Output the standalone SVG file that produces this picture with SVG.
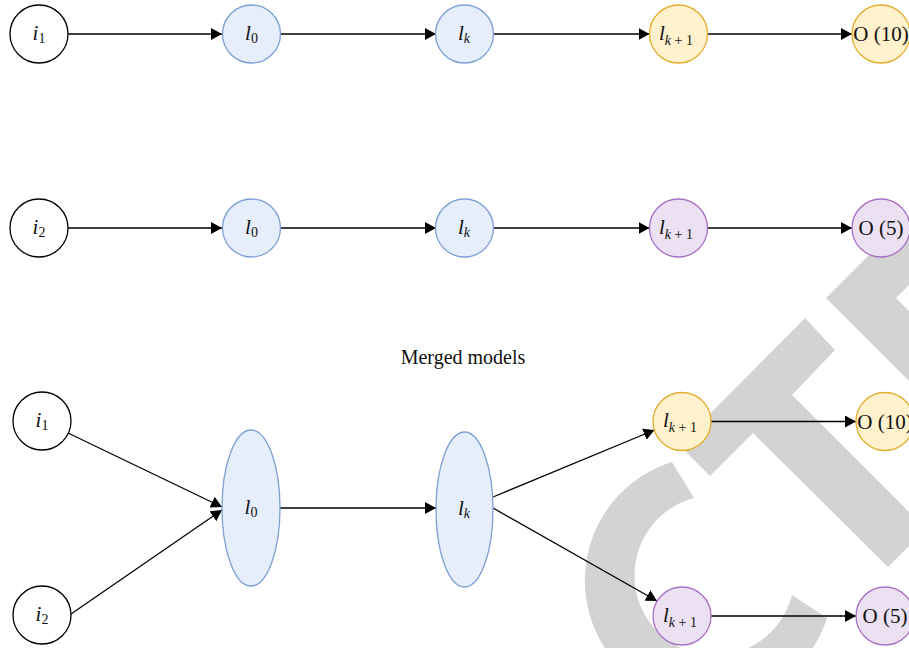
<svg xmlns="http://www.w3.org/2000/svg" width="909" height="648" viewBox="0 0 909 648">
<defs>
<style>
.wm{fill:#d3d3d3}
.w{fill:#fff;stroke:#000;stroke-width:1.3}
.b{fill:#e5eefa;stroke:#7e9fd5;stroke-width:1.3}
.y{fill:#fff2cc;stroke:#e3ad2d;stroke-width:1.3}
.p{fill:#ece0f3;stroke:#a870c1;stroke-width:1.3}
text{font-family:"Liberation Serif","Times New Roman",serif;fill:#111}
.lbl{font-size:21px;text-anchor:middle}
.it{font-style:italic}
.sub{font-size:14px}
.e{stroke:#000;stroke-width:1.3;fill:none;marker-end:url(#ah)}
</style>
<marker id="ah" markerUnits="userSpaceOnUse" viewBox="0 0 11 12" refX="11" refY="6" markerWidth="11" markerHeight="12" orient="auto"><path d="M0,0 L11,6 L0,12 Z" fill="#000"/></marker>
</defs>
<rect width="909" height="648" fill="#fff"/>
<g id="watermark">
<path class="wm" d="M672,462 A124,124 0 1 0 827,618 L792,595 A80,80 0 1 1 694,498 Z"/>
<polygon class="wm" points="679,445 805,318 835,350 792,395 926,529 888,567 753,433 710,476"/>
<polygon class="wm" points="826,298 930,194 930,264 896,298 930,332 930,402"/>
</g>
<g id="connectors">
<path class="e" d="M68,34 H222"/>
<path class="e" d="M280.5,34 H436"/>
<path class="e" d="M493.5,34 H649.5"/>
<path class="e" d="M707.5,34 H852"/>
<path class="e" d="M68,228 H222"/>
<path class="e" d="M280.5,228 H436"/>
<path class="e" d="M493.5,228 H649.5"/>
<path class="e" d="M707.5,228 H852"/>
<path class="e" d="M68,433 L222,507"/>
<path class="e" d="M71,614 L222,510"/>
<path class="e" d="M280,508 H436"/>
<path class="e" d="M493,497 L654.5,430"/>
<path class="e" d="M493,508 L657,601"/>
<path class="e" d="M711,421.5 H856"/>
<path class="e" d="M711,616 H856"/>
</g>
<g id="r1-i1"><circle class="w" cx="39" cy="34" r="29"/><text class="lbl" x="39" y="40"><tspan class="it">i</tspan><tspan class="sub" dy="3">1</tspan></text></g>
<g id="r1-l0"><circle class="b" cx="251.5" cy="34" r="29"/><text class="lbl" x="251.5" y="40"><tspan class="it">l</tspan><tspan class="sub" dy="3">0</tspan></text></g>
<g id="r1-lk"><circle class="b" cx="464.5" cy="34" r="29"/><text class="lbl" x="464" y="40"><tspan class="it">l</tspan><tspan class="sub it" dy="3">k</tspan></text></g>
<g id="r1-lk1"><circle class="y" cx="678.5" cy="34" r="29"/><text class="lbl" x="676" y="40"><tspan class="it">l</tspan><tspan class="sub" dy="5"><tspan class="it">k</tspan> + 1</tspan></text></g>
<g id="r1-out"><circle class="y" cx="881" cy="34" r="29"/><text class="lbl" x="881" y="41">O (10)</text></g>
<g id="r2-i2"><circle class="w" cx="39" cy="228" r="29"/><text class="lbl" x="39" y="234"><tspan class="it">i</tspan><tspan class="sub" dy="3">2</tspan></text></g>
<g id="r2-l0"><circle class="b" cx="251.5" cy="228" r="29"/><text class="lbl" x="251.5" y="234"><tspan class="it">l</tspan><tspan class="sub" dy="3">0</tspan></text></g>
<g id="r2-lk"><circle class="b" cx="464.5" cy="228" r="29"/><text class="lbl" x="464" y="234"><tspan class="it">l</tspan><tspan class="sub it" dy="3">k</tspan></text></g>
<g id="r2-lk1"><circle class="p" cx="678.5" cy="228" r="29"/><text class="lbl" x="676" y="234"><tspan class="it">l</tspan><tspan class="sub" dy="5"><tspan class="it">k</tspan> + 1</tspan></text></g>
<g id="r2-out"><circle class="p" cx="881" cy="228" r="29"/><text class="lbl" x="881" y="235">O (5)</text></g>
<g id="title"><text class="lbl" x="463" y="364" style="font-size:20px">Merged models</text></g>
<g id="m-i1"><circle class="w" cx="42" cy="421" r="29"/><text class="lbl" x="42" y="427"><tspan class="it">i</tspan><tspan class="sub" dy="3">1</tspan></text></g>
<g id="m-i2"><circle class="w" cx="42" cy="615" r="29"/><text class="lbl" x="42" y="621"><tspan class="it">i</tspan><tspan class="sub" dy="3">2</tspan></text></g>
<g id="m-l0"><ellipse class="b" cx="251" cy="508" rx="29" ry="78"/><text class="lbl" x="251" y="514"><tspan class="it">l</tspan><tspan class="sub" dy="3">0</tspan></text></g>
<g id="m-lk"><ellipse class="b" cx="464.5" cy="509.5" rx="28.5" ry="77.5"/><text class="lbl" x="464" y="515"><tspan class="it">l</tspan><tspan class="sub it" dy="3">k</tspan></text></g>
<g id="m-lk1a"><circle class="y" cx="682" cy="421.5" r="29"/><text class="lbl" x="680" y="427"><tspan class="it">l</tspan><tspan class="sub" dy="5"><tspan class="it">k</tspan> + 1</tspan></text></g>
<g id="m-out10"><circle class="y" cx="885" cy="421.5" r="29"/><text class="lbl" x="885" y="428.5">O (10)</text></g>
<g id="m-lk1b"><circle class="p" cx="682" cy="616" r="29"/><text class="lbl" x="680" y="622"><tspan class="it">l</tspan><tspan class="sub" dy="5"><tspan class="it">k</tspan> + 1</tspan></text></g>
<g id="m-out5"><circle class="p" cx="885" cy="616" r="29"/><text class="lbl" x="885" y="623">O (5)</text></g>
</svg>
